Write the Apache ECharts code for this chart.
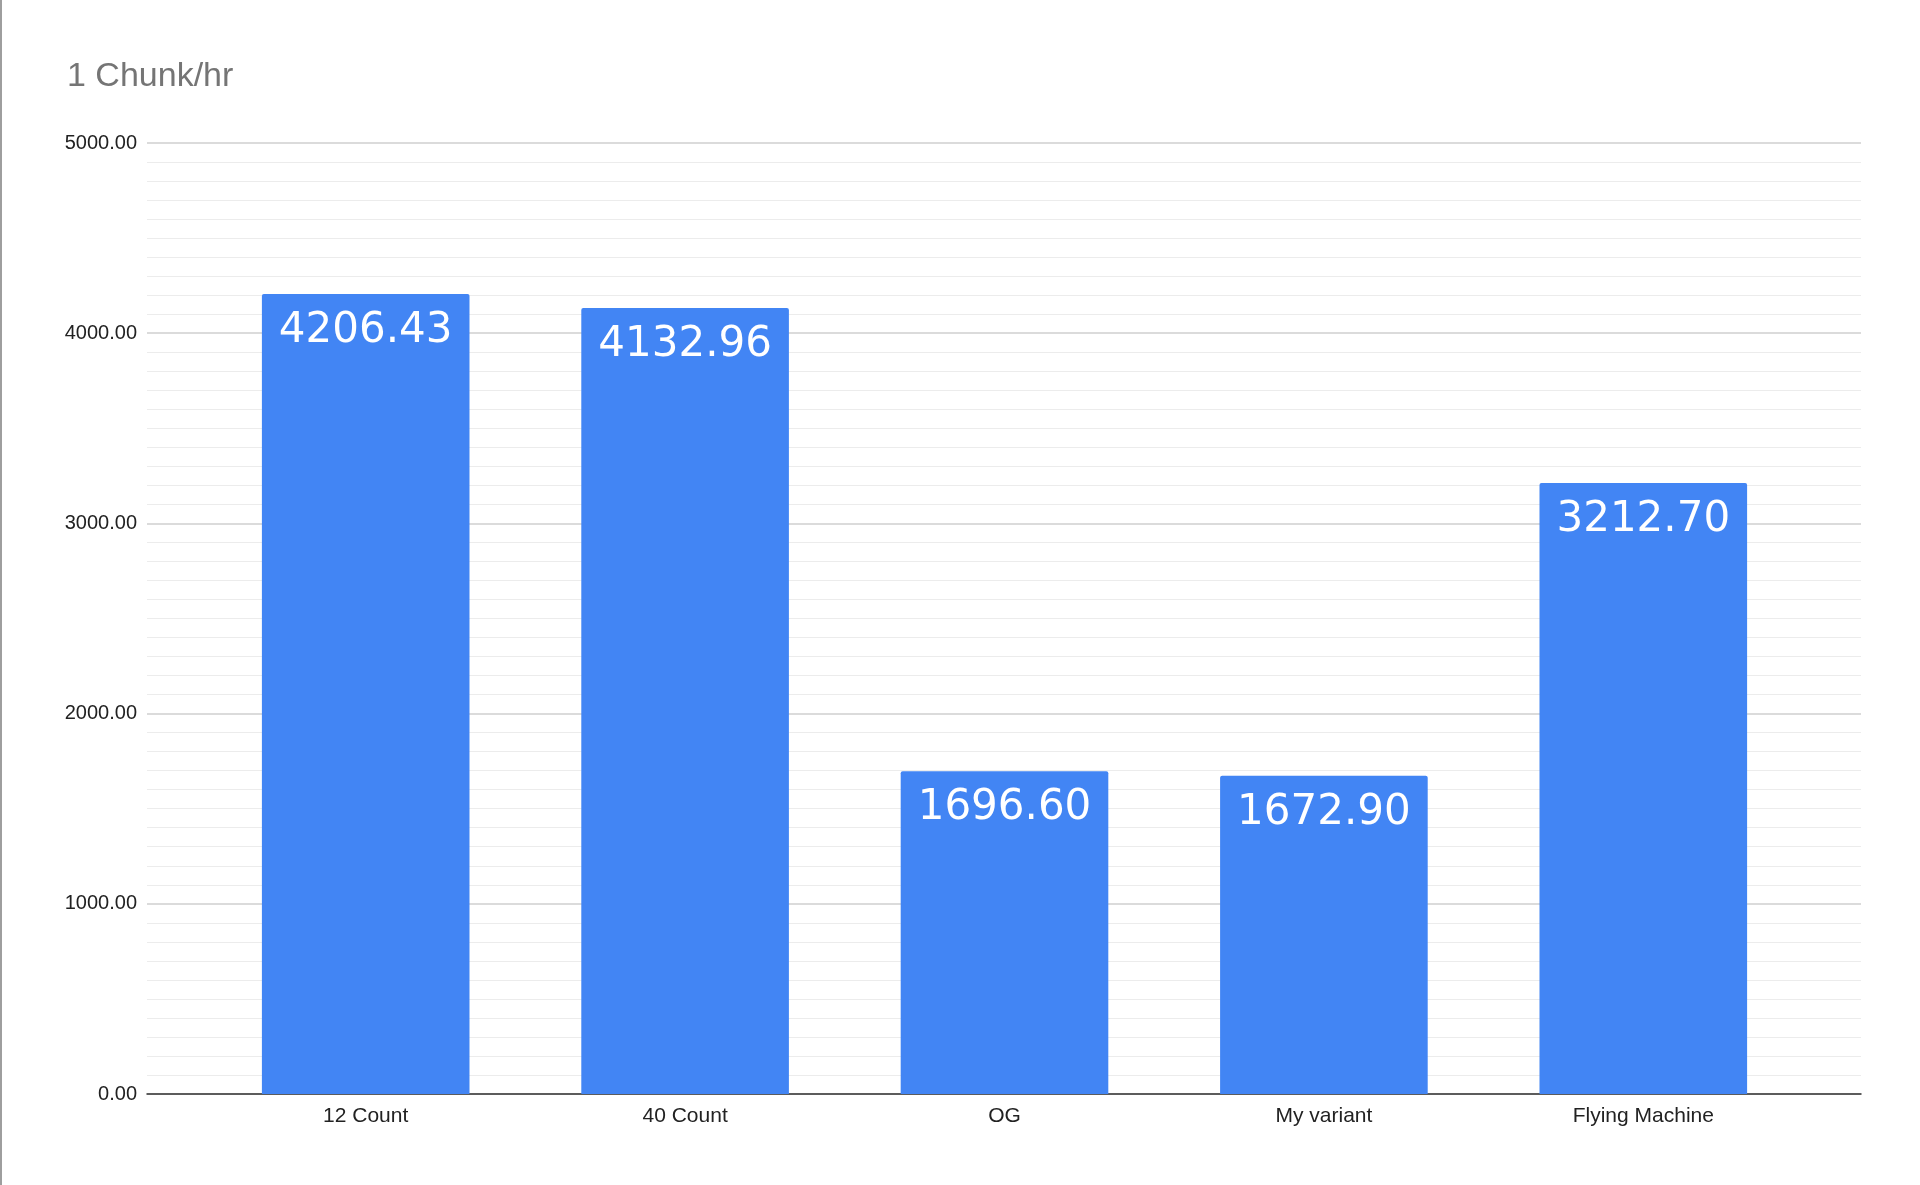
<!DOCTYPE html>
<html>
<head>
<meta charset="utf-8">
<script src="https://cdn.jsdelivr.net/npm/echarts@6/dist/echarts.min.js"></script>
<style>
html,body{margin:0;padding:0;background:#fff;}
#chart{width:1920px;height:1185px;border-left:2px solid #9e9e9e;box-sizing:border-box;}
</style>
</head>
<body>
<div id="chart"></div>
<script>
var categories = ['12 Count', '40 Count', 'OG', 'My variant', 'Flying Machine'];
var chunkValues = [4206.43, 4132.96, 1696.60, 1672.90, 3212.70];

var myChart = echarts.init(document.getElementById('chart'));
var font = 'Liberation Sans, Arial';
var option = {
    animation: false,
    title: {
        text: '1 Chunk/hr',
        left: 60,
        top: 55,
        textStyle: { color: '#757575', fontSize: 34, fontWeight: 'normal', fontFamily: font }
    },
    grid: [
        { left: 145, right: 59, top: 143, bottom: 91 },
        { left: 204, right: 117, top: 143, bottom: 91 }
    ],
    xAxis: [{
        type: 'category',
        gridIndex: 0,
        data: [''],
        axisTick: { show: false },
        axisLabel: { show: false },
        axisLine: { lineStyle: { color: '#333', width: 1.5 } }
    }, {
        type: 'category',
        gridIndex: 1,
        data: categories,
        axisTick: { show: false },
        axisLine: { show: false },
        axisLabel: { color: '#222', fontSize: 21, margin: 12, fontFamily: font }
    }],
    yAxis: [{
        type: 'value',
        gridIndex: 0,
        min: 0,
        max: 5000,
        interval: 1000,
        axisLabel: {
            color: '#222', fontSize: 20, margin: 10, fontFamily: font,
            formatter: function (v) { return v.toFixed(2); }
        },
        splitLine: { lineStyle: { color: '#cfcfcf', width: 1.5 } },
        minorTick: { show: false, splitNumber: 10 },
        minorSplitLine: { show: true, lineStyle: { color: '#ececec', width: 1.2 } }
    }, {
        type: 'value',
        gridIndex: 1,
        min: 0,
        max: 5000,
        interval: 1000,
        show: false,
        splitLine: { show: false }
    }],
    series: [{
        type: 'bar',
        xAxisIndex: 1,
        yAxisIndex: 1,
        data: chunkValues,
        barWidth: '65%',
        itemStyle: { color: '#4285f4', borderRadius: [2, 2, 0, 0] },
        label: {
            show: true,
            position: 'insideTop',
            distance: 16,
            color: '#fff',
            fontSize: 42,
            fontWeight: 500,
            fontFamily: 'DejaVu Sans',
            formatter: function (p) { return p.value.toFixed(2); }
        }
    }]
};
myChart.setOption(option, true);
</script>
</body>
</html>
